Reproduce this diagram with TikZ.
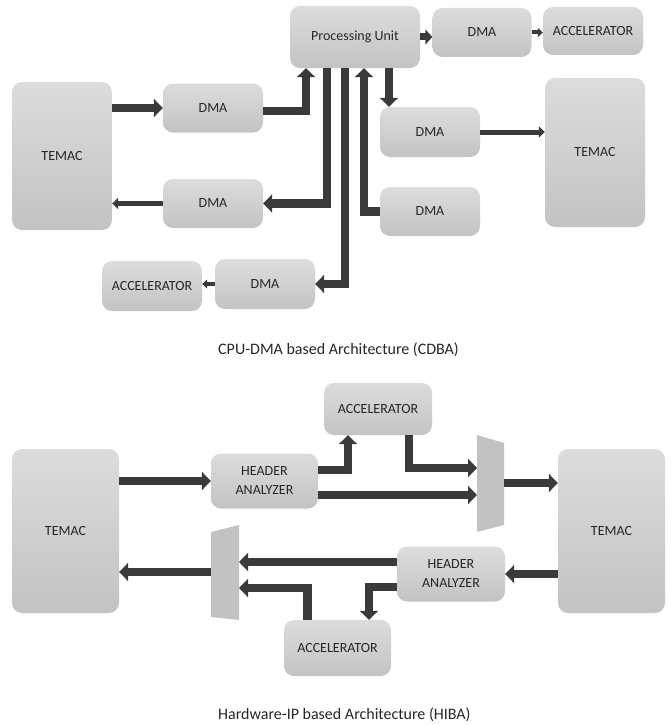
\documentclass[tikz,border=0pt]{standalone}
\usepackage{fontspec}
\setmainfont{Carlito}
\usetikzlibrary{arrows.meta}
\definecolor{boxtop}{HTML}{DCDCDC}
\definecolor{boxbot}{HTML}{C3C3C3}
\definecolor{arrowgray}{HTML}{3A3A3A}
\definecolor{muxgray}{HTML}{C2C2C2}
\definecolor{txtgray}{HTML}{262626}

\begin{document}
\begin{tikzpicture}[x=1pt,y=1pt]
				\tikzstyle{every node}+=[inner sep=0pt, text=txtgray, font=\fontsize{14}{19}\selectfont]
				\tikzstyle{blk}=[rectangle, rounded corners=10pt, top color=boxtop, bottom color=boxbot, draw=none, align=center]
				\tikzstyle{busarrow}=[draw=arrowgray, line width=8.5pt, -{Triangle[width=18pt,length=9pt]}]
				\tikzstyle{shortarrow}=[draw=arrowgray, line width=7pt, -{Triangle[width=15pt,length=7pt]}]
				\tikzstyle{linkarrow}=[draw=arrowgray, line width=5pt, -{Triangle[width=11pt,length=6pt]}]
				\tikzstyle{tinyarrow}=[draw=arrowgray, line width=4pt, -{Triangle[width=9pt,length=5pt]}]
				\useasboundingbox (0,0) rectangle (670,-725);
				% CPU-DMA based architecture
				\node [blk, minimum width=130pt, minimum height=62pt] (pu) at (355,-37) {Processing Unit};
				\node [blk, minimum width=99pt, minimum height=49pt] (dmaT) at (482,-32.5) {DMA};
				\node [blk, minimum width=100pt, minimum height=48pt] (accT) at (593,-31) {ACCELERATOR};
				\node [blk, minimum width=100pt, minimum height=148pt] (temacL) at (62,-156) {TEMAC};
				\node [blk, minimum width=100pt, minimum height=49pt] (dmaL1) at (213,-108) {DMA};
				\node [blk, minimum width=100pt, minimum height=49pt] (dmaL2) at (213,-203.5) {DMA};
				\node [blk, minimum width=100pt, minimum height=50pt] (dmaR1) at (430,-132) {DMA};
				\node [blk, minimum width=100pt, minimum height=49pt] (dmaR2) at (430,-211.5) {DMA};
				\node [blk, minimum width=100pt, minimum height=149pt] (temacR) at (595,-152.5) {TEMAC};
				\node [blk, minimum width=100pt, minimum height=50pt] (dmaB) at (265,-284) {DMA};
				\node [blk, minimum width=100pt, minimum height=50pt] (accB) at (152,-286) {ACCELERATOR};
				\draw [busarrow] (temacL.east |- dmaL1.west) -- (dmaL1.west);
				\draw [busarrow] ([yshift=-3pt]dmaL1.east) -| ([xshift=-49pt]pu.south);
				\draw [busarrow] ([xshift=-28pt]pu.south) |- (dmaL2.east);
				\draw [linkarrow] (dmaL2.west) -- (temacL.east |- dmaL2.west);
				\draw [busarrow] ([xshift=-10pt]pu.south) |- (dmaB.east);
				\draw [busarrow] (dmaR2.west) -| ([xshift=9pt]pu.south);
				\draw [busarrow] ([xshift=34pt]pu.south) -- ([xshift=-41pt]dmaR1.north);
				\draw [linkarrow] (dmaR1.east) -- (temacR.west |- dmaR1.east);
				\draw [shortarrow] (pu.east) -- (dmaT.west |- pu.east);
				\draw [tinyarrow] (dmaT.east) -- (accT.west |- dmaT.east);
				\draw [tinyarrow] (dmaB.west) -- (accB.east |- dmaB.west);
				\node [anchor=west, font=\fontsize{16}{19}\selectfont] (capA) at (218,-350) {CPU-DMA based Architecture (CDBA)};
				% Hardware-IP based architecture
				\node [blk, minimum width=108pt, minimum height=52pt] (accTop) at (378,-409) {ACCELERATOR};
				\node [blk, minimum width=107pt, minimum height=55pt] (haTop) at (264.5,-481) {HEADER\\ANALYZER};
				\node [blk, minimum width=107pt, minimum height=164pt] (temacL2) at (65.5,-531) {TEMAC};
				\node [blk, minimum width=107pt, minimum height=164pt] (temacR2) at (611.5,-531) {TEMAC};
				\node [blk, minimum width=108pt, minimum height=55pt] (haBot) at (451,-574) {HEADER\\ANALYZER};
				\node [blk, minimum width=107pt, minimum height=56pt] (accBot) at (337.5,-648) {ACCELERATOR};
				\fill [muxgray] (477,-435) -- (504,-443) -- (504,-525) -- (477,-532) -- cycle;
				\coordinate (muxTin) at (477,-481);
				\coordinate (muxTout) at (504,-483);
				\fill [muxgray] (211,-532) -- (239,-525) -- (239,-620) -- (211,-617) -- cycle;
				\coordinate (muxBin) at (239,-575);
				\coordinate (muxBout) at (211,-572);
				\draw [busarrow] (temacL2.east |- haTop.west) -- (haTop.west);
				\draw [busarrow] ([yshift=11pt]haTop.east) -| ([xshift=-30pt]accTop.south);
				\draw [busarrow] ([xshift=31pt]accTop.south) |- ([yshift=13pt]muxTin);
				\draw [busarrow] ([yshift=-14pt]haTop.east) -- ([yshift=-14pt]muxTin);
				\draw [busarrow] (muxTout) -- (temacR2.west |- muxTout);
				\draw [busarrow] (temacR2.west |- haBot.east) -- (haBot.east);
				\draw [busarrow] ([yshift=12pt]haBot.west) -- ([yshift=13pt]muxBin);
				\draw [busarrow] ([yshift=-13pt]haBot.west) -| ([xshift=31.5pt]accBot.north);
				\draw [busarrow] ([xshift=-30pt]accBot.north) |- ([yshift=-13pt]muxBin);
				\draw [busarrow] (muxBout) -- (temacL2.east |- muxBout);
				\node [anchor=west, font=\fontsize{16}{19}\selectfont] (capB) at (218,-715) {Hardware-IP based Architecture (HIBA)};
			\end{tikzpicture}
\end{document}
